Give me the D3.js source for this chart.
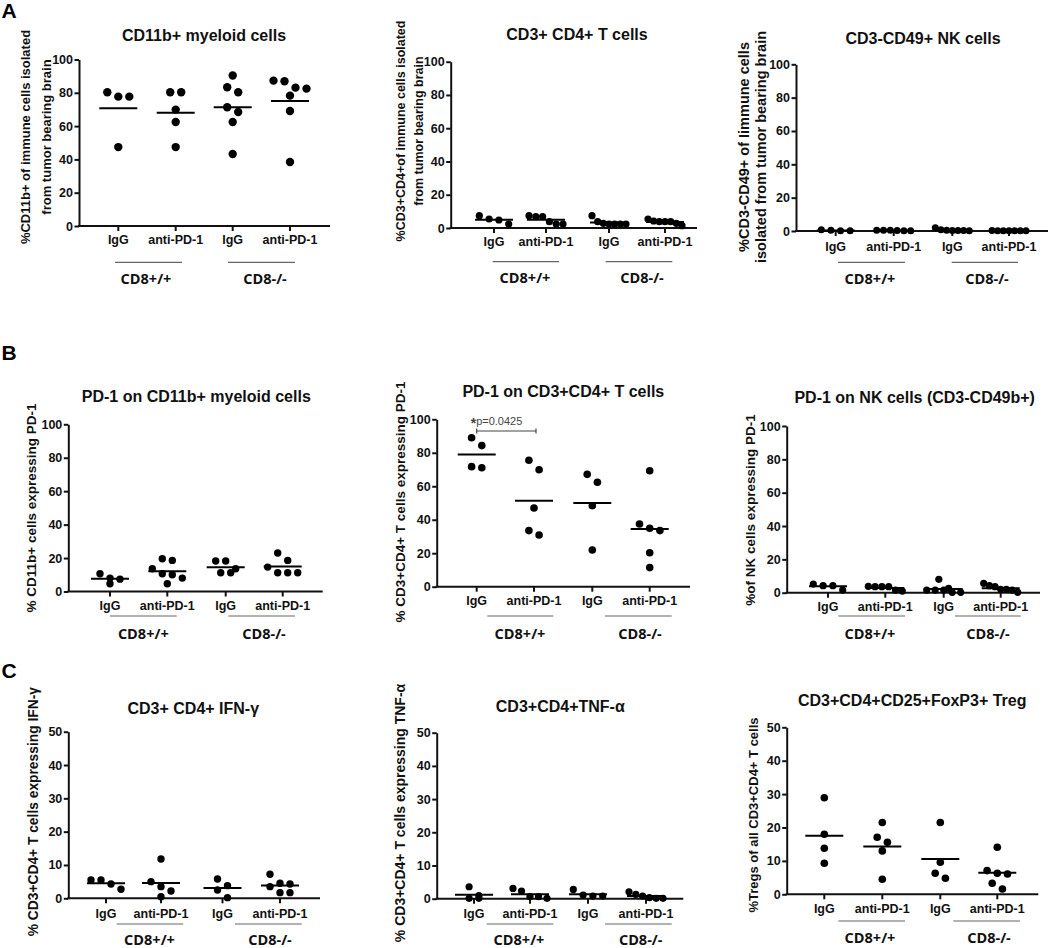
<!DOCTYPE html>
<html><head><meta charset="utf-8">
<script src="https://cdn.jsdelivr.net/npm/d3@7"></script>
<style>body{margin:0;background:#fff}</style>
</head><body>
<svg id="chart" width="1050" height="948"></svg>
<script>
// ---------- DATA ----------
const categories = ["IgG", "anti-PD-1", "IgG", "anti-PD-1"];
const genotypes = ["CD8+/+", "CD8-/-"];
const panelLetters = ["A", "B", "C"];
const ticks100 = [0, 20, 40, 60, 80, 100];
const ticks50 = [0, 10, 20, 30, 40, 50];

const titles = [
  "CD11b+ myeloid cells", "CD3+ CD4+ T cells", "CD3-CD49+ NK cells",
  "PD-1 on CD11b+ myeloid cells", "PD-1 on CD3+CD4+ T cells", "PD-1 on NK cells (CD3-CD49b+)",
  "CD3+ CD4+ IFN-γ", "CD3+CD4+TNF-α", "CD3+CD4+CD25+FoxP3+ Treg"
];
const yTitles = [
  ["%CD11b+ of immune cells isolated", "from tumor bearing brain"],
  ["%CD3+CD4+of immune cells isolated", "from tumor bearing brain"],
  ["%CD3-CD49+ of Iimmune cells", "isolated from tumor bearing brain"],
  ["% CD11b+ cells expressing PD-1"],
  ["% CD3+CD4+ T cells expressing PD-1"],
  ["%of NK cells expressing PD-1"],
  ["% CD3+CD4+ T cells expressing IFN-γ"],
  ["% CD3+CD4+ T cells expressing TNF-α"],
  ["%Tregs of all CD3+CD4+ T cells"]
];

// values per group: [CD8+/+ IgG, CD8+/+ anti-PD-1, CD8-/- IgG, CD8-/- anti-PD-1]
const cd11bMyeloid = [[80.3,77.7,77.7,47.4],[80.3,80.3,69.9,62.5,47.4],[90.4,83.3,80.3,71.3,68.5,62.5,43.2],[87.3,86.9,83.1,82.5,78.3,69.1,38.4]];
const cd4TCells = [[7.4,5.4,4.8,2.4],[7.4,6.8,6.8,3.8,2.4,2.4],[7.4,3.8,2.8,2.4,2.4,2.4,2.4],[5.4,4.2,3.8,3.8,3.8,2.8,1.4]];
const nkCells = [[0.8,0.4,0.1,0.1],[0.5,0.4,0.4,0.3,0.2,0.1],[2.0,0.8,0.5,0.3,0.3,0.3,0.2],[0.3,0.2,0.2,0.2,0.1,0.1,0.1]];
const pd1Myeloid = [[10.6,8.0,7.4,4.6],[19.6,18.6,13.6,10.6,10.0,8.0,4.6],[18.2,18.2,13.6,11.2,11.2],[23.0,18.6,14.6,11.2,11.2,11.2]];
const pd1TCells = [[89.0,84.3,71.7,71.1],[75.5,69.9,47.0,33.5,30.9],[67.1,62.4,48.4,21.9],[69.3,37.5,34.9,33.5,20.3,11.4]];
const pd1NK = [[5.2,4.2,4.2,1.6],[3.8,3.6,3.6,3.6,1.6,1.0],[8.0,2.6,1.6,1.6,1.6,0.2,0.2],[5.6,4.2,3.6,2.0,2.0,1.6,0.2]];
const ifnGamma = [[5.5,5.5,4.3,2.7],[11.8,5.0,3.5,2.2,0.5],[5.8,3.8,2.5,0.2],[7.2,4.5,4.3,3.5,1.7,1.7]];
const tnfAlpha = [[3.6,0.9,0.1,0.1],[3.1,2.3,0.6,0.6,0.1],[2.8,1.1,0.8,0.8],[2.1,1.3,0.8,0.3,0.1,0.1]];
const tregs = [[28.9,18.0,13.8,9.3],[21.5,17.1,15.6,13.0,4.5],[21.5,9.6,6.3,4.8],[14.1,7.1,6.3,6.1,3.3,1.6]];

const panelValues = [cd11bMyeloid, cd4TCells, nkCells, pd1Myeloid, pd1TCells, pd1NK, ifnGamma, tnfAlpha, tregs];
const panelTicks = [ticks100, ticks100, ticks100, ticks100, ticks100, ticks100, ticks50, ticks50, ticks50];

// significance annotation (panel index, from group, to group, value level, label)
const sigPanel = 4, sigFrom = 0, sigTo = 1, sigLevel = 93, sigLabel = "p=0.0425";

// ---------- LAYOUT ----------
const layouts = [
  {ax:79, yTop:59.5, yBot:226, xEnd:330, cats:[118.3,175.7,232.7,290], catY:239.5, ulY:262.3, ul:[[115,182],[228,295]], gY:279, gX:[146,265], tX:204, tY:35, ytX:[25.7,46.7], ytY:137, ytSize:13, r:4.2},
  {ax:450.7, yTop:61.7, yBot:228, xEnd:697, cats:[494,546,609,665], catY:242, ulY:261.7, ul:[[492.7,559],[605.7,672.3]], gY:278, gX:[525,642], tX:577, tY:34, ytX:[401,418.7], ytY:131, ytSize:12.5, r:3.6},
  {ax:796, yTop:64.3, yBot:231, xEnd:1048, cats:[835.7,893.7,952.3,1009], catY:246.7, ulY:262.3, ul:[[838,905],[951.7,1018]], gY:279.3, gX:[870,987], tX:923, tY:38.3, ytX:[744,760.7], ytY:147, ytSize:14.5, r:3.5},
  {ax:68.3, yTop:424.3, yBot:591.5, xEnd:322.7, cats:[110,167.3,225.7,282.7], catY:605.7, ulY:616, ul:[[110,176.7],[228.3,295]], gY:634, gX:[143.3,264], tX:196.3, tY:396.7, ytX:[31.7], ytY:508, ytSize:13.5, r:3.7},
  {ax:436.7, yTop:419.3, yBot:586.7, xEnd:690, cats:[476.7,534,592.3,649.7], catY:601, ulY:616, ul:[[487.3,553.3],[605,671.7]], gY:634, gX:[520,640], tX:563.3, tY:391.7, ytX:[400], ytY:502, ytSize:13.5, r:3.8},
  {ax:786.7, yTop:426, yBot:592.7, xEnd:1040, cats:[828,885.3,943.7,1000.7], catY:606.7, ulY:616, ul:[[838.3,905],[955,1020.7]], gY:634, gX:[870,988], tX:914.7, tY:397.3, ytX:[750], ytY:510, ytSize:13.5, r:3.6},
  {ax:68.3, yTop:731.7, yBot:898.3, xEnd:320, cats:[106,161,222.5,280], catY:913.3, ulY:924, ul:[[116.7,183.3],[235,301.7]], gY:940, gX:[149.5,270], tX:193.3, tY:708.3, ytX:[33.3], ytY:811.7, ytSize:13.8, r:3.7},
  {ax:436.7, yTop:732.7, yBot:898.7, xEnd:683.3, cats:[474,530,588,646], catY:914, ulY:924, ul:[[486.7,553.3],[605,671.7]], gY:940, gX:[519,640.7], tX:560.3, tY:706.7, ytX:[400], ytY:813, ytSize:14, r:3.6},
  {ax:786.7, yTop:727.3, yBot:894.3, xEnd:1038.3, cats:[824.3,882.3,940.3,997.3], catY:908.3, ulY:921, ul:[[838.3,905],[953.3,1020]], gY:938.3, gX:[870,989], tX:912.2, tY:700, ytX:[753.3], ytY:815, ytSize:13, r:3.8}
];
const letterPos = [[1.5,18.3],[1.5,360],[1.5,678.3]];

// ---------- DRAW ----------
const FONT = "'Liberation Sans', Arial, Helvetica, sans-serif";
const GFONT = "'Open Sans', 'Liberation Sans', sans-serif";
const svg = d3.select("#chart");
svg.append("rect").attr("width",1050).attr("height",948).attr("fill","#fff");

panelLetters.forEach((t, i) => {
  svg.append("text").attr("x", letterPos[i][0]).attr("y", letterPos[i][1])
    .attr("font-family", FONT).attr("font-weight","bold").attr("font-size", 21).attr("fill","#000").text(t);
});

function layoutDots(vals, y, r) {
  const pts = vals.map(v => ({v})).sort((a,b) => b.v - a.v);
  const rows = [];
  pts.forEach(d => {
    const row = rows[rows.length-1];
    if (row && Math.abs(y(d.v) - y(row[0].v)) < 10) row.push(d); else rows.push([d]);
  });
  rows.forEach(row => {
    const n = row.length;
    const sp = n > 1 ? Math.min(2*r + 2.6, 34/(n-1)) : 0;
    row.forEach((d,i) => d.dx = (i - (n-1)/2) * sp);
  });
  return pts;
}

panelValues.forEach((vals, i) => {
  const L = layouts[i];
  const tks = panelTicks[i];
  const g = svg.append("g");
  const y = d3.scaleLinear().domain([0, d3.max(tks)]).range([L.yBot, L.yTop]);
  const x = d3.scaleOrdinal().domain(d3.range(4)).range(L.cats);

  // y axis
  const ga = g.append("g").attr("transform", `translate(${L.ax},0)`)
    .call(d3.axisLeft(y).tickValues(tks).tickSize(4.5).tickPadding(1.5).tickSizeOuter(0));
  ga.select(".domain").attr("stroke","#111").attr("stroke-width",2);
  ga.selectAll(".tick line").attr("stroke","#111").attr("stroke-width",2);
  ga.selectAll(".tick text").attr("font-family",FONT).attr("font-size",12.5)
    .attr("font-weight","bold").attr("fill","#111");

  // x axis
  g.append("line").attr("x1", L.ax - 1).attr("x2", L.xEnd).attr("y1", L.yBot).attr("y2", L.yBot)
    .attr("stroke","#111").attr("stroke-width",2);
  g.selectAll(".xt").data(d3.range(4)).join("line")
    .attr("x1", k => x(k)).attr("x2", k => x(k)).attr("y1", L.yBot).attr("y2", L.yBot + 5)
    .attr("stroke","#111").attr("stroke-width",2);
  g.selectAll(".xl").data(d3.range(4)).join("text")
    .attr("x", k => x(k)).attr("y", L.catY).attr("dy","0.35em").attr("text-anchor","middle")
    .attr("font-family",FONT).attr("font-size",12.5).attr("font-weight","bold").attr("fill","#111")
    .text(k => categories[k]);

  // group underlines + labels
  genotypes.forEach((gt, j) => {
    g.append("line").attr("x1", L.ul[j][0]).attr("x2", L.ul[j][1]).attr("y1", L.ulY).attr("y2", L.ulY)
      .attr("stroke","#666").attr("stroke-width",1.2);
    g.append("text").attr("x", L.gX[j]).attr("y", L.gY).attr("dy","0.35em").attr("text-anchor","middle")
      .attr("font-family",GFONT).attr("font-size",14.5).attr("font-weight","bold").attr("fill","#111").text(gt);
  });

  // title
  g.append("text").attr("x", L.tX).attr("y", L.tY).attr("dy","0.35em").attr("text-anchor","middle")
    .attr("font-family",FONT).attr("font-size",16).attr("font-weight","bold").attr("fill","#111").text(titles[i]);

  // y title
  yTitles[i].forEach((t, j) => {
    g.append("text").attr("transform", `translate(${L.ytX[j]},${L.ytY}) rotate(-90)`)
      .attr("dy","0.35em").attr("text-anchor","middle")
      .attr("font-family",FONT).attr("font-size",L.ytSize).attr("font-weight","bold").attr("fill","#111").text(t);
  });

  // dots
  vals.forEach((grp, k) => {
    const pts = layoutDots(grp, y, L.r);
    g.selectAll(null).data(pts).join("circle")
      .attr("cx", d => x(k) + d.dx).attr("cy", d => y(d.v)).attr("r", L.r).attr("fill","#000");
    const m = d3.mean(grp);
    g.append("line").attr("x1", x(k) - 19).attr("x2", x(k) + 19).attr("y1", y(m)).attr("y2", y(m))
      .attr("stroke","#000").attr("stroke-width",2);
  });

  // significance
  if (i === sigPanel) {
    const yy = y(sigLevel), x1 = x(sigFrom), x2 = x(sigTo) + 2;
    g.append("path").attr("d", `M${x1},${yy-2.5}V${yy+2.5}M${x1},${yy}H${x2}M${x2},${yy-2.5}V${yy+2.5}`)
      .attr("stroke","#444").attr("stroke-width",1.2).attr("fill","none");
    const t = g.append("text").attr("x", x1 - 6).attr("y", yy - 6).attr("font-family",FONT).attr("fill","#444");
    t.append("tspan").attr("font-size",14).attr("font-weight","bold").attr("dy", 3).text("*");
    t.append("tspan").attr("font-size",11).attr("dy", -3).text(sigLabel);
  }
});
</script>
</body></html>
